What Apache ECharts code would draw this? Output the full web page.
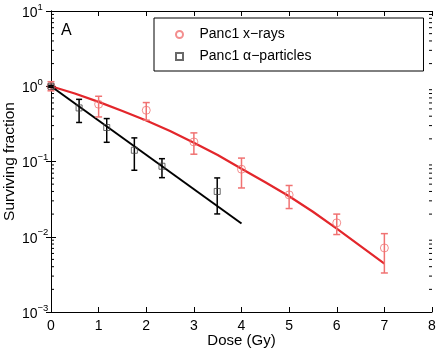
<!DOCTYPE html>
<html>
<head>
<meta charset="utf-8">
<script src="https://cdn.jsdelivr.net/npm/echarts@6/dist/echarts.min.js"></script>
<style>
  html, body { margin: 0; padding: 0; background: #fff; }
  #main { width: 437px; height: 350px; }
</style>
</head>
<body>
<div id="main"></div>
<script>
// Panc1 x-rays: measured points, error bar ends, fitted curve
const xrayDose = [0, 1, 2, 3, 4, 5, 6, 7];
const xraySF = [1.0, 0.577, 0.48, 0.182, 0.079, 0.036, 0.0153, 0.0071];
const xrayLow = [0.87, 0.391, 0.354, 0.125, 0.0445, 0.0237, 0.0107, 0.0033];
const xrayHigh = [1.15, 0.736, 0.607, 0.24, 0.111, 0.048, 0.020, 0.011];
const xrayFitDose = [0, 0.5, 1, 1.5, 2, 2.5, 3, 3.5, 4, 4.5, 5, 5.5, 6, 6.5, 7];
const xrayFitSF = [1.0, 0.80, 0.62, 0.47, 0.35, 0.255, 0.178, 0.122, 0.080, 0.053, 0.0345, 0.0215, 0.0128, 0.0075, 0.0044];

// Panc1 alpha-particles
const alphaDose = [0, 0.59, 1.17, 1.75, 2.33, 3.49];
const alphaSF = [1.0, 0.515, 0.283, 0.141, 0.0865, 0.040];
const alphaLow = [0.97, 0.33, 0.18, 0.0765, 0.061, 0.0201];
const alphaHigh = [1.03, 0.67, 0.372, 0.206, 0.109, 0.0605];
const alphaFitDose = [0, 4];
const alphaFitSF = [1.0, 0.015];

// minor tick positions on the log axis
const minorTicks = [
  0.002, 0.003, 0.004, 0.005, 0.006, 0.007, 0.008, 0.009,
  0.02, 0.03, 0.04, 0.05, 0.06, 0.07, 0.08, 0.09,
  0.2, 0.3, 0.4, 0.5, 0.6, 0.7, 0.8, 0.9,
  2, 3, 4, 5, 6, 7, 8, 9
];

const FONT = 'Liberation Sans';
const RED = '#e3262b';
const RED_LIGHT = '#f07272';

const zip = (a, b) => a.map((v, i) => [v, b[i]]);
const zip3 = (a, b, c) => a.map((v, i) => [v, b[i], c[i]]);

function errorBars(color, cap) {
  return function (params, api) {
    const x = api.value(0);
    const lo = api.coord([x, api.value(1)]);
    const hi = api.coord([x, api.value(2)]);
    const st = { stroke: color, lineWidth: 1.5 };
    return {
      type: 'group',
      children: [
        { type: 'line', shape: { x1: lo[0], y1: lo[1], x2: hi[0], y2: hi[1] }, style: st },
        { type: 'line', shape: { x1: lo[0] - cap, y1: lo[1], x2: lo[0] + cap, y2: lo[1] }, style: st },
        { type: 'line', shape: { x1: hi[0] - cap, y1: hi[1], x2: hi[0] + cap, y2: hi[1] }, style: st }
      ]
    };
  };
}

function minorTickItem(params, api) {
  const v = api.value(0);
  const l = api.coord([0, v]);
  const r = api.coord([8, v]);
  const st = { stroke: '#000', lineWidth: 1 };
  return {
    type: 'group',
    children: [
      { type: 'line', shape: { x1: l[0], y1: l[1], x2: l[0] + 3, y2: l[1] }, style: st },
      { type: 'line', shape: { x1: r[0], y1: r[1], x2: r[0] - 3, y2: r[1] }, style: st }
    ]
  };
}

const chart = echarts.init(document.getElementById('main'));

const axisLine = { show: true, lineStyle: { color: '#000', width: 1 } };
const tick = { show: true, inside: true, length: 5, lineStyle: { color: '#000' } };
const squareIcon = 'path://M0,0L10,0L10,10L0,10Z';

const option = {
  animation: false,
  textStyle: { fontFamily: FONT },
  title: {
    text: 'A',
    left: 61,
    top: 23,
    padding: 0,
    textStyle: { fontFamily: FONT, fontSize: 16, fontWeight: 'normal', color: '#000' }
  },
  legend: {
    orient: 'vertical',
    left: 154,
    top: 18,
    padding: [9, 112, 7, 21],
    itemWidth: 30,
    itemHeight: 7,
    itemGap: 7,
    borderColor: '#000',
    borderWidth: 1,
    borderRadius: 0,
    textStyle: { fontFamily: FONT, fontSize: 14, color: '#000', lineHeight: 15 },
    data: [
      { name: 'Panc1 x\u2212rays', icon: 'circle' },
      { name: 'Panc1 \u03b1\u2212particles', icon: squareIcon }
    ]
  },
  grid: { left: 51, right: 5, top: 11, bottom: 38, outerBoundsMode: 'none', containLabel: false },
  xAxis: [
    {
      type: 'value', min: 0, max: 8, interval: 1,
      name: 'Dose (Gy)', nameLocation: 'middle', nameGap: 21, nameMoveOverlap: false,
      nameTextStyle: { fontFamily: FONT, fontSize: 15, color: '#000' },
      axisLine: axisLine, axisTick: tick,
      axisLabel: { fontFamily: FONT, fontSize: 14, color: '#000', margin: 7 },
      splitLine: { show: false }
    },
    {
      type: 'value', min: 0, max: 8, interval: 1, position: 'top',
      axisLine: axisLine, axisTick: tick, axisLabel: { show: false },
      splitLine: { show: false }
    }
  ],
  yAxis: [
    {
      type: 'log', logBase: 10, min: 0.001, max: 10, splitNumber: 4,
      name: 'Surviving fraction', nameLocation: 'middle', nameGap: 33, nameMoveOverlap: false,
      nameTextStyle: { fontFamily: FONT, fontSize: 15.5, color: '#000' },
      axisLine: axisLine, axisTick: tick,
      axisLabel: {
        align: 'left', margin: 29, color: '#000',
        formatter: function (v) {
          const e = Math.round(Math.log10(v));
          return '{b|10}{s|' + (e < 0 ? '\u2212' + (-e) : e) + '}';
        },
        rich: {
          b: { fontFamily: FONT, fontSize: 14, color: '#000', lineHeight: 18, verticalAlign: 'bottom' },
          s: { fontFamily: FONT, fontSize: 9.5, color: '#000', lineHeight: 18, verticalAlign: 'top' }
        }
      },
      splitLine: { show: false }
    },
    {
      type: 'log', logBase: 10, min: 0.001, max: 10, splitNumber: 4, position: 'right',
      axisLine: axisLine, axisTick: tick, axisLabel: { show: false },
      splitLine: { show: false }
    }
  ],
  series: [
    {
      type: 'custom', name: 'minor', silent: true,
      renderItem: minorTickItem,
      data: minorTicks.map(v => [v]),
      encode: { y: 0 }, z: 1
    },
    {
      type: 'line', name: 'xray fit', data: zip(xrayFitDose, xrayFitSF),
      showSymbol: false, lineStyle: { color: RED, width: 2.2 }, z: 2
    },
    {
      type: 'line', name: 'alpha fit', data: zip(alphaFitDose, alphaFitSF),
      showSymbol: false, lineStyle: { color: '#000', width: 2 }, z: 2
    },
    {
      type: 'custom', name: 'xray err', silent: true,
      renderItem: errorBars(RED_LIGHT, 3.5),
      data: zip3(xrayDose, xrayLow, xrayHigh),
      encode: { x: 0, y: [1, 2] }, z: 3
    },
    {
      type: 'custom', name: 'alpha err', silent: true,
      renderItem: errorBars('#000', 3),
      data: zip3(alphaDose, alphaLow, alphaHigh),
      encode: { x: 0, y: [1, 2] }, z: 3
    },
    {
      type: 'scatter', name: 'Panc1 x\u2212rays', data: zip(xrayDose, xraySF),
      symbol: 'circle', symbolSize: 8,
      itemStyle: { color: 'rgba(255,255,255,0)', borderColor: RED_LIGHT, borderWidth: 1 }, z: 4
    },
    {
      type: 'scatter', name: 'Panc1 \u03b1\u2212particles', data: zip(alphaDose, alphaSF),
      symbol: 'rect', symbolSize: 6,
      itemStyle: { color: 'rgba(255,255,255,0)', borderColor: '#444', borderWidth: 1 }, z: 4
    }
  ]
};

chart.setOption(option);
</script>
</body>
</html>
